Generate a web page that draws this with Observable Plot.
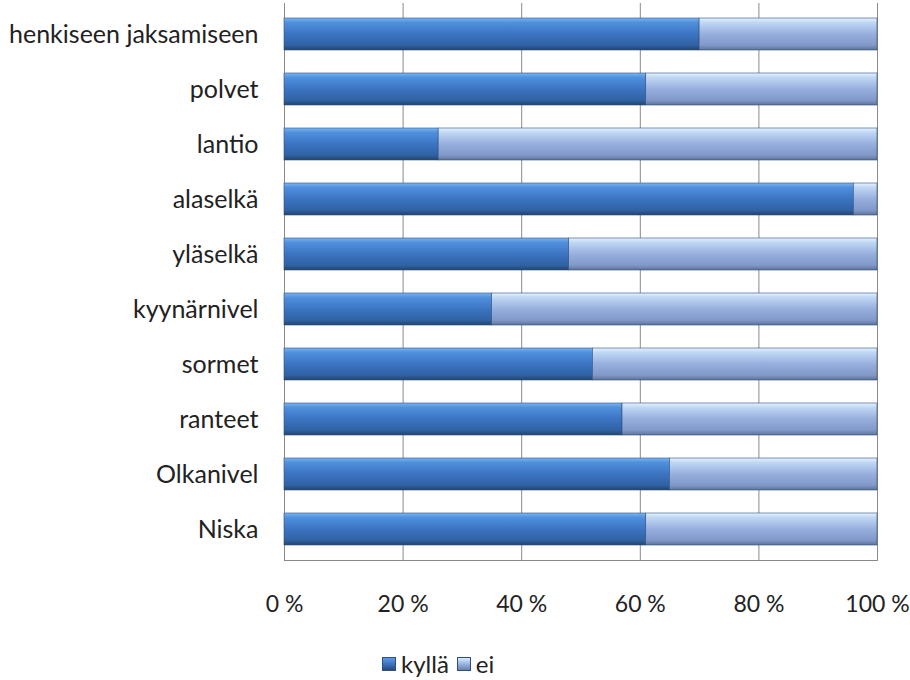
<!DOCTYPE html>
<html><head><meta charset="utf-8">
<script src="https://cdn.jsdelivr.net/npm/d3@7"></script>
<script src="https://cdn.jsdelivr.net/npm/@observablehq/plot@0.6"></script>
<style>
body{margin:0;background:#fff;font-family:Lato,"Open Sans",sans-serif;}
#wrap{position:relative;width:910px;height:680px;}
#legend{position:absolute;top:650px;left:382px;display:flex;align-items:center;font-size:24px;color:#222;line-height:28px;}
.sw{width:14px;height:14px;display:inline-block;margin-right:5px;border:1px solid #2f4f7f;box-sizing:border-box;}
.it{display:flex;align-items:center;margin-right:8px;}
</style>
</head><body>
<div id="wrap"><div id="chart"></div><div id="legend"></div></div>
<script>
const categories = ["henkiseen jaksamiseen","polvet","lantio","alaselkä","yläselkä","kyynärnivel","sormet","ranteet","Olkanivel","Niska"];
const kylla = [70,61,26,96,48,35,52,57,65,61];
const ei = [30,39,74,4,52,65,48,43,35,39];
const series = ["kyllä","ei"];
const xTicks = [0,20,40,60,80,100];
const xTickLabels = ["0 %","20 %","40 %","60 %","80 %","100 %"];

const data = [];
categories.forEach((c,i)=>{
  data.push({cat:c, series:"kyllä", value:kylla[i]});
  data.push({cat:c, series:"ei", value:ei[i]});
});

const chart = Plot.plot({
  width:910, height:630,
  marginLeft:284, marginRight:33, marginTop:3, marginBottom:70,
  x:{domain:[0,100], ticks:xTicks, tickFormat:d=>xTickLabels[xTicks.indexOf(d)], tickSize:0, tickPadding:35, label:null},
  y:{domain:categories, paddingInner:0.425, paddingOuter:0.21, tickSize:0, tickPadding:26, label:null},
  color:{domain:series, range:["url(#gk)","url(#ge)"]},
  style:{fontSize:"23px", fontFamily:"Lato, 'Open Sans', sans-serif", color:"#222", background:"#fff"},
  marks:[
    Plot.ruleX(xTicks, {stroke:"#8a8a8a", strokeWidth:1, strokeOpacity:1}),
    Plot.frame({anchor:"bottom", stroke:"#8a8a8a"}),
    Plot.barX(data, {x:"value", y:"cat", fill:"series", order:series, stroke:"#2d4e80", strokeWidth:0.6})
  ]
});

d3.select(chart).selectAll('g[aria-label^="y-axis"]').attr("font-size", 25);
d3.select(chart).selectAll('g[aria-label^="x-axis"]').attr("font-size", 23);

const defs = d3.select(chart).insert("defs", ":first-child");
function grad(id, stops){
  const g = defs.append("linearGradient").attr("id", id).attr("x1",0).attr("y1",0).attr("x2",0).attr("y2",1);
  stops.forEach(([o,c])=>g.append("stop").attr("offset",o).attr("stop-color",c));
}
grad("gk", [[0,"#7ab6f4"],[0.14,"#5090dc"],[0.5,"#3c74c2"],[0.85,"#3062a3"],[1,"#22446f"]]);
grad("ge", [[0,"#e6f2ff"],[0.14,"#c0d7f4"],[0.5,"#97afdd"],[0.85,"#8199c9"],[1,"#5e7299"]]);
document.getElementById("chart").appendChild(chart);

const legend = document.getElementById("legend");
const swFill = {"kyllä":"linear-gradient(#5f9be4,#3a70bc 55%,#27497a)","ei":"linear-gradient(#d9eafe,#95aedc 55%,#6a7fa8)"};
series.forEach(s=>{
  const it = document.createElement("span"); it.className="it";
  const sw = document.createElement("span"); sw.className="sw"; sw.style.background = swFill[s];
  const t = document.createElement("span"); t.textContent = s;
  it.appendChild(sw); it.appendChild(t); legend.appendChild(it);
});
</script>
</body></html>
